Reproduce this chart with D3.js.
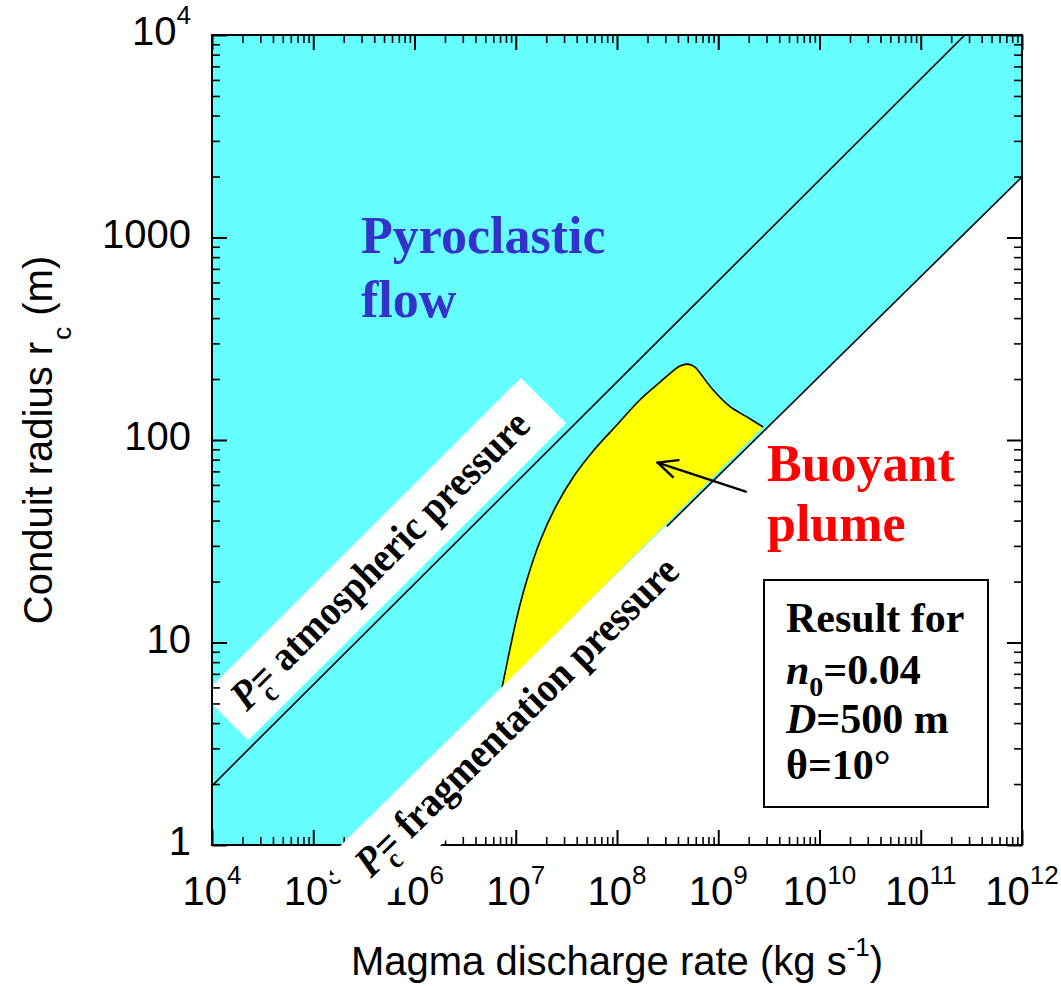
<!DOCTYPE html>
<html>
<head>
<meta charset="utf-8">
<script src="https://cdn.jsdelivr.net/npm/d3@7"></script>
<style>
  html, body { margin: 0; padding: 0; background: #ffffff; }
  svg { display: block; }
</style>
</head>
<body>
<svg id="chart" width="1061" height="986"></svg>
<script>
// ---- axis domains and tick labels ----
const qDomain = [1e4, 1e12];           // magma discharge rate, kg/s
const rDomain = [1, 1e4];              // conduit radius, m
const qTickExp = [4, 5, 6, 7, 8, 9, 10, 11, 12];
const rTickValues = [1, 10, 100, 1000, 1e4];
const rTickBase = ["1", "10", "100", "1000", "10"];
const rTickSup = ["", "", "", "", "4"];

// ---- regime boundaries (straight lines in log-log space) ----
// P_c = atmospheric pressure
const atmQ = [1e4, 2.73e11];
const atmR = [1.96, 1e4];
// P_c = fragmentation pressure
const fragQ = [1.97e5, 1e12];
const fragR = [1, 1990];

// ---- buoyant plume region: upper boundary, left tip to right end on the fragmentation line ----
const plumeQ = [7.31e6, 1.03e7, 1.29e7, 1.74e7, 2.50e7, 3.76e7, 5.93e7, 9.55e7, 1.69e8, 2.66e8,
                3.49e8, 4.19e8, 5.02e8, 5.89e8, 6.61e8, 8.87e8, 1.31e9, 1.92e9, 2.77e9];
const plumeR = [5.96, 13.4, 20.4, 31.7, 47.2, 66.4, 89.3, 116, 158, 193,
                217, 232, 237, 229, 214, 177, 146, 130, 116];

// ---- annotation texts ----
const flowLines = ["Pyroclastic", "flow"];
const plumeLines = ["Buoyant", "plume"];
const atmWords = " atmospheric pressure";
const fragWords = " fragmentation pressure";
const resultTitle = "Result for";
const paramN0 = "0.04";
const paramD = "500 m";
const paramTheta = "10";

// ---- arrow pointing into the plume region (tail, head) ----
const arrowQ = [1.87e9, 2.52e8];
const arrowR = [55.6, 77.3];

// ---- colours ----
const cyan = "#66ffff";
const yellow = "#ffff00";
const flowBlue = "#3333cc";
const plumeRed = "#ff0000";

// ---- layout ----
const plot = { left: 212, right: 1022, top: 35, bottom: 845 };
const sans = "'Liberation Sans', Arial, sans-serif";
const serif = "'Liberation Serif', 'Times New Roman', serif";

const svg = d3.select("#chart");
const x = d3.scaleLog().domain(qDomain).range([plot.left, plot.right]);
const y = d3.scaleLog().domain(rDomain).range([plot.bottom, plot.top]);

svg.append("defs").append("clipPath").attr("id", "plotClip")
  .append("rect")
  .attr("x", plot.left).attr("y", plot.top)
  .attr("width", plot.right - plot.left).attr("height", plot.bottom - plot.top);

const area = svg.append("g").attr("clip-path", "url(#plotClip)");

// Pyroclastic-flow regime: everything above the fragmentation line
const flowPoly = [
  [fragQ[0], fragR[0]], [fragQ[1], fragR[1]],
  [qDomain[1], rDomain[1]], [qDomain[0], rDomain[1]], [qDomain[0], rDomain[0]]
];
area.append("path")
  .attr("d", d3.line().x(d => x(d[0])).y(d => y(d[1]))(flowPoly) + "Z")
  .attr("fill", cyan);

// Buoyant-plume region, closed along the fragmentation line
const plumePts = plumeQ.map((q, i) => [q, plumeR[i]]);
const curve = d3.line().x(d => x(d[0])).y(d => y(d[1])).curve(d3.curveCatmullRom.alpha(0.5));
area.append("path")
  .attr("d", curve(plumePts) + "Z")
  .attr("fill", yellow);
area.append("path")
  .attr("d", curve(plumePts))
  .attr("fill", "none").attr("stroke", "#000").attr("stroke-width", 1.6);

// boundary lines
const straight = d3.line().x(d => x(d[0])).y(d => y(d[1]));
area.append("path")
  .attr("d", straight(atmQ.map((q, i) => [q, atmR[i]])))
  .attr("fill", "none").attr("stroke", "#000").attr("stroke-width", 1.6);
area.append("path")
  .attr("d", straight(fragQ.map((q, i) => [q, fragR[i]])))
  .attr("fill", "none").attr("stroke", "#000").attr("stroke-width", 1.6);

// pixel angle of a boundary line
function lineAngle(qs, rs) {
  return Math.atan2(y(rs[1]) - y(rs[0]), x(qs[1]) - x(qs[0])) * 180 / Math.PI;
}

// rotated white label band with a P_c = ... caption
function pressureLabel(parent, q, r, angle, w, h, along, perp, words, size) {
  const g = parent.append("g")
    .attr("transform", `translate(${x(q)},${y(r)}) rotate(${angle})`);
  g.append("rect")
    .attr("x", -w / 2).attr("y", -h / 2)
    .attr("width", w).attr("height", h)
    .attr("fill", "#fff");
  const t = g.append("text")
    .attr("transform", `translate(${along},${perp}) scale(1,1.1)`)
    .attr("text-anchor", "middle")
    .attr("font-family", serif).attr("font-weight", "bold")
    .attr("font-size", size).attr("fill", "#000");
  t.append("tspan").attr("font-style", "italic").text("P");
  t.append("tspan").attr("font-size", size * 0.68).attr("dx", 1).attr("dy", size * 0.28).text("c");
  t.append("tspan").attr("dx", -size * 0.30).attr("dy", -size * 0.28).text("=");
  t.append("tspan").text(words);
  return g;
}

// band along the atmospheric-pressure line
const atmAngle = lineAngle(atmQ, atmR);
pressureLabel(svg, 5.06e5, 25.8, atmAngle, 449, 64, -4, 11, atmWords, 38);

// ---- axes: inward log ticks on all four sides ----
const decadesQ = d3.range(4, 12);
const minorQ = [];
decadesQ.forEach(d => { for (let m = 2; m <= 9; m++) minorQ.push(m * Math.pow(10, d)); });
const majorQ = qTickExp.map(e => Math.pow(10, e));
const minorR = [];
d3.range(0, 4).forEach(d => { for (let m = 2; m <= 9; m++) minorR.push(m * Math.pow(10, d)); });
const majorR = rTickValues;

function tickAxis(gen, scale, values, size, transform, width) {
  const g = svg.append("g").attr("transform", transform)
    .call(gen(scale).tickValues(values).tickSize(-size).tickSizeOuter(0).tickFormat(""));
  g.select(".domain").remove();
  g.selectAll(".tick line").attr("stroke", "#000").attr("stroke-width", width);
  return g;
}
tickAxis(d3.axisBottom, x, minorQ, 8, `translate(0,${plot.bottom})`, 1.6);
tickAxis(d3.axisBottom, x, majorQ, 15, `translate(0,${plot.bottom})`, 2);
tickAxis(d3.axisTop, x, minorQ, 8, `translate(0,${plot.top})`, 1.6);
tickAxis(d3.axisTop, x, majorQ, 15, `translate(0,${plot.top})`, 2);
tickAxis(d3.axisLeft, y, minorR, 8, `translate(${plot.left},0)`, 1.6);
tickAxis(d3.axisLeft, y, majorR, 15, `translate(${plot.left},0)`, 2);
tickAxis(d3.axisRight, y, minorR, 8, `translate(${plot.right},0)`, 1.6);
tickAxis(d3.axisRight, y, majorR, 15, `translate(${plot.right},0)`, 2);

svg.append("rect")
  .attr("x", plot.left).attr("y", plot.top)
  .attr("width", plot.right - plot.left).attr("height", plot.bottom - plot.top)
  .attr("fill", "none").attr("stroke", "#000").attr("stroke-width", 2);

// x tick labels 10^n
qTickExp.forEach(e => {
  const t = svg.append("text")
    .attr("x", x(Math.pow(10, e))).attr("y", plot.bottom + 60)
    .attr("text-anchor", "middle")
    .attr("font-family", sans).attr("font-size", 40).attr("fill", "#000");
  t.append("tspan").text("10");
  t.append("tspan").attr("font-size", 26).attr("dy", -21).text(e);
});

// y tick labels
rTickValues.forEach((v, i) => {
  const t = svg.append("text")
    .attr("x", 191).attr("y", y(v) + 10)
    .attr("text-anchor", "end")
    .attr("font-family", sans).attr("font-size", 40).attr("fill", "#000");
  t.append("tspan").text(rTickBase[i]);
  if (rTickSup[i]) t.append("tspan").attr("font-size", 26).attr("dy", -21).text(rTickSup[i]);
});

// axis titles
const xt = svg.append("text")
  .attr("x", (plot.left + plot.right) / 2).attr("y", 975)
  .attr("text-anchor", "middle")
  .attr("font-family", sans).attr("font-size", 40).attr("fill", "#000");
xt.append("tspan").text("Magma discharge rate (kg s");
xt.append("tspan").attr("font-size", 26).attr("dy", -19).text("-1");
xt.append("tspan").attr("dy", 19).text(")");

const yt = svg.append("text")
  .attr("transform", `translate(52,${(plot.top + plot.bottom) / 2}) rotate(-90)`)
  .attr("text-anchor", "middle")
  .attr("font-family", sans).attr("font-size", 40).attr("fill", "#000");
yt.append("tspan").text("Conduit radius r");
yt.append("tspan").attr("font-size", 26).attr("dy", 19).attr("dx", 2).text("c");
yt.append("tspan").attr("dy", -19).text(" (m)");

// band along the fragmentation-pressure line (drawn over the bottom axis)
const fragAngle = lineAngle(fragQ, fragR);
pressureLabel(svg, 1.08e7, 4.19, fragAngle, 481, 70, 0, 10, fragWords, 38);

// ---- regime names ----
const flowText = svg.append("text")
  .attr("font-family", serif).attr("font-weight", "bold")
  .attr("font-size", 52).attr("fill", flowBlue);
flowLines.forEach((s, i) => flowText.append("tspan").attr("x", 361).attr("y", 253 + i * 64).text(s));

const plumeText = svg.append("text")
  .attr("font-family", serif).attr("font-weight", "bold")
  .attr("font-size", 52).attr("fill", plumeRed);
plumeLines.forEach((s, i) => plumeText.append("tspan").attr("x", 767).attr("y", 481 + i * 60).text(s));

// arrow from the plume label into the yellow region
const ax0 = x(arrowQ[0]), ay0 = y(arrowR[0]), ax1 = x(arrowQ[1]), ay1 = y(arrowR[1]);
const ang = Math.atan2(ay1 - ay0, ax1 - ax0);
const headLen = 21, headSpread = 25 * Math.PI / 180;
const arrow = svg.append("g").attr("stroke", "#000").attr("stroke-width", 2.4)
  .attr("fill", "none").attr("stroke-linecap", "round");
arrow.append("line").attr("x1", ax0).attr("y1", ay0).attr("x2", ax1).attr("y2", ay1);
[-1, 1].forEach(s => {
  arrow.append("line")
    .attr("x1", ax1).attr("y1", ay1)
    .attr("x2", ax1 - headLen * Math.cos(ang + s * headSpread))
    .attr("y2", ay1 - headLen * Math.sin(ang + s * headSpread));
});

// ---- parameter box ----
svg.append("rect")
  .attr("x", 764).attr("y", 580).attr("width", 224).attr("height", 227)
  .attr("fill", "#fff").attr("stroke", "#000").attr("stroke-width", 2);
const boxFont = (sel) => sel.attr("font-family", serif).attr("font-weight", "bold")
  .attr("font-size", 42).attr("fill", "#000");

svg.append("text").call(boxFont).attr("x", 786).attr("y", 632).text(resultTitle);

const n0 = svg.append("text").call(boxFont).attr("x", 786).attr("y", 684);
n0.append("tspan").attr("font-style", "italic").text("n");
n0.append("tspan").attr("font-size", 28).attr("dy", 12).text("0");
n0.append("tspan").attr("dy", -12).text("=" + paramN0);

const dd = svg.append("text").call(boxFont).attr("x", 786).attr("y", 733);
dd.append("tspan").attr("font-style", "italic").text("D");
dd.append("tspan").text("=" + paramD);

const th = svg.append("text").call(boxFont).attr("x", 786).attr("y", 779);
th.append("tspan").text("\u03b8=" + paramTheta + "\u00b0");
</script>
</body>
</html>
